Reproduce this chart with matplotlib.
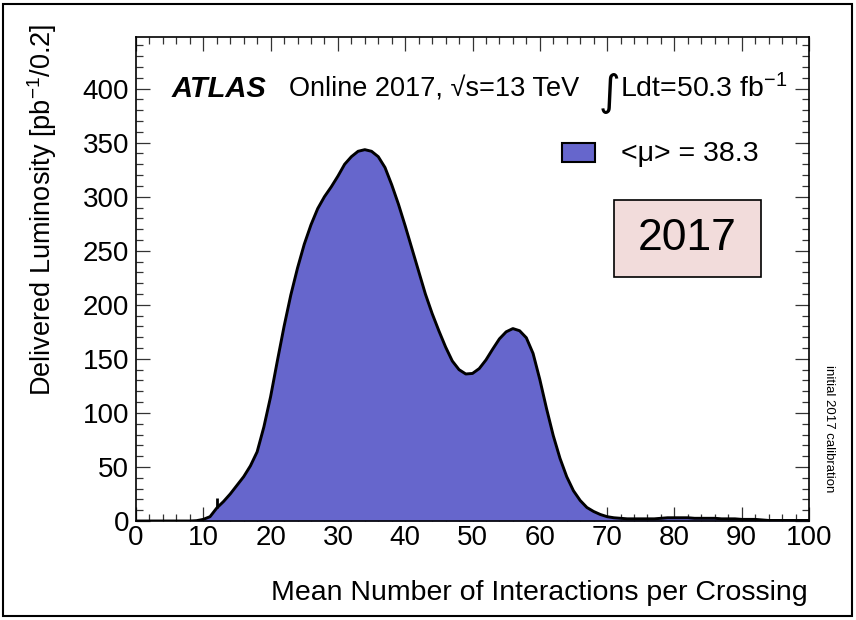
import numpy as np
import matplotlib
matplotlib.use("Agg")
import matplotlib.pyplot as plt
from matplotlib.patches import Rectangle
from matplotlib.ticker import MultipleLocator

plt.rcParams['font.family'] = ['Liberation Sans', 'DejaVu Sans']
plt.rcParams['mathtext.fontset'] = 'custom'
plt.rcParams['mathtext.rm'] = 'Liberation Sans'
plt.rcParams['mathtext.it'] = 'Liberation Sans:italic'
plt.rcParams['mathtext.bf'] = 'Liberation Sans:bold'

# ---- data ----
mu = list(range(0, 101))
lumi = [0, 0, 0, 0, 0, 0, 0, 0, 0, 0.3,          # 0-9
        1.5, 4, 12, 18, 25, 33, 41, 51, 64, 87,    # 10-19
        115, 148, 180, 209, 234, 256, 274, 289, 300, 309,  # 20-29
        319, 330, 337, 342, 343.5, 342, 337, 327, 311, 293,  # 30-39
        273, 252, 231, 210, 192, 176, 161, 148, 140, 136,  # 40-49
        136.5, 141, 149, 159, 168.5, 175, 178, 176, 169.5, 155,  # 50-59
        131, 104, 79, 58, 41, 28, 19, 12.5, 8.8, 6,          # 60-69
        4, 3, 2.5, 2, 2, 2, 2, 2, 2.5, 3,                  # 70-79
        3, 3, 3, 2.5, 2.5, 2.5, 2.5, 2, 2, 2,              # 80-89
        1.5, 1.5, 1.5, 1, 0.5, 0.5, 0.5, 0.5, 0.5, 0.5,    # 90-99
        0.5]                                               # 100
spike_x = [12.0]
spike_y = [21.0]

x_ticks = [0, 10, 20, 30, 40, 50, 60, 70, 80, 90, 100]
y_ticks = [0, 50, 100, 150, 200, 250, 300, 350, 400]
mean_mu = 38.3
year = "2017"
lumi_total = 50.3

W, H = 856, 620
fig = plt.figure(figsize=(W / 100, H / 100), dpi=100)

def fx(x):
    return x / W

def fy(y):
    return 1 - y / H

ax = fig.add_axes([fx(136), fy(521), fx(809) - fx(136), fy(36.7) - fy(521)])

fill_c = '#6666cc'
ax.fill_between(mu, lumi, 0, color=fill_c, lw=0, zorder=2)
ax.plot(mu, lumi, color='black', lw=2.1, zorder=3, solid_joinstyle='round')
base = np.interp(spike_x, mu, lumi)
ax.vlines(spike_x, base, spike_y, color='black', lw=2.0, zorder=3)

ax.set_xlim(0, 100)
ax.set_ylim(0, 448)
ax.set_xticks(x_ticks)
ax.set_yticks(y_ticks)
ax.set_xticklabels([str(t) for t in x_ticks])
ax.set_yticklabels([str(t) for t in y_ticks])
ax.xaxis.set_minor_locator(MultipleLocator(2))
ax.yaxis.set_minor_locator(MultipleLocator(10))
ax.tick_params(which='both', direction='in', top=True, right=True, color='#333333')
ax.tick_params(which='major', length=10, width=0.9, labelsize=20, pad=3)
ax.tick_params(which='minor', length=5, width=0.9)
ax.tick_params(axis='y', which='major', pad=5)
for s in ax.spines.values():
    s.set_linewidth(1.2)

# axis titles
fig.text(fx(808), fy(600), 'Mean Number of Interactions per Crossing',
         ha='right', va='baseline', fontsize=20.5)
fig.text(fx(42), fy(24), r'Delivered Luminosity [pb$^{-1}$/0.2]',
         ha='center', va='top', rotation=90, fontsize=19.5)

# header
fig.text(fx(172), fy(97), 'ATLAS', fontsize=21, fontweight='bold',
         fontstyle='italic', ha='left', va='baseline')
fig.text(fx(289), fy(97), 'Online 2017, \u221as=13 TeV', fontsize=19.5,
         ha='left', va='baseline')
fig.text(fx(599), fy(105), '\u222b', fontsize=30, ha='left', va='baseline',
         family=['DejaVu Sans'])
fig.text(fx(620), fy(97), r'Ldt=%.1f fb$^{-1}$' % lumi_total, fontsize=20.5,
         ha='left', va='baseline')

# legend
fig.patches.append(Rectangle((fx(562), fy(162)), fx(595) - fx(562), fy(143) - fy(162),
                             transform=fig.transFigure, facecolor=fill_c,
                             edgecolor='black', lw=1.5))
fig.text(fx(621), fy(161), '<\u03bc> = %.1f' % mean_mu, fontsize=20.5,
         ha='left', va='baseline')

# year box
fig.patches.append(Rectangle((fx(614), fy(277)), fx(761) - fx(614), fy(200) - fy(277),
                             transform=fig.transFigure, facecolor='#f2dcdb',
                             edgecolor='black', lw=1.2))
fig.text(fx(687.5), fy(238.5), year, fontsize=32, ha='center', va='center')

# side note
fig.text(fx(829), fy(429), 'initial 2017 calibration', fontsize=9.5,
         rotation=-90, ha='center', va='center')

# figure frame
fig.patches.append(Rectangle((fx(3), fy(616)), fx(852) - fx(3), fy(4) - fy(616),
                             transform=fig.transFigure, facecolor='none',
                             edgecolor='black', lw=1.5))

fig.savefig('out.png', dpi=100)
